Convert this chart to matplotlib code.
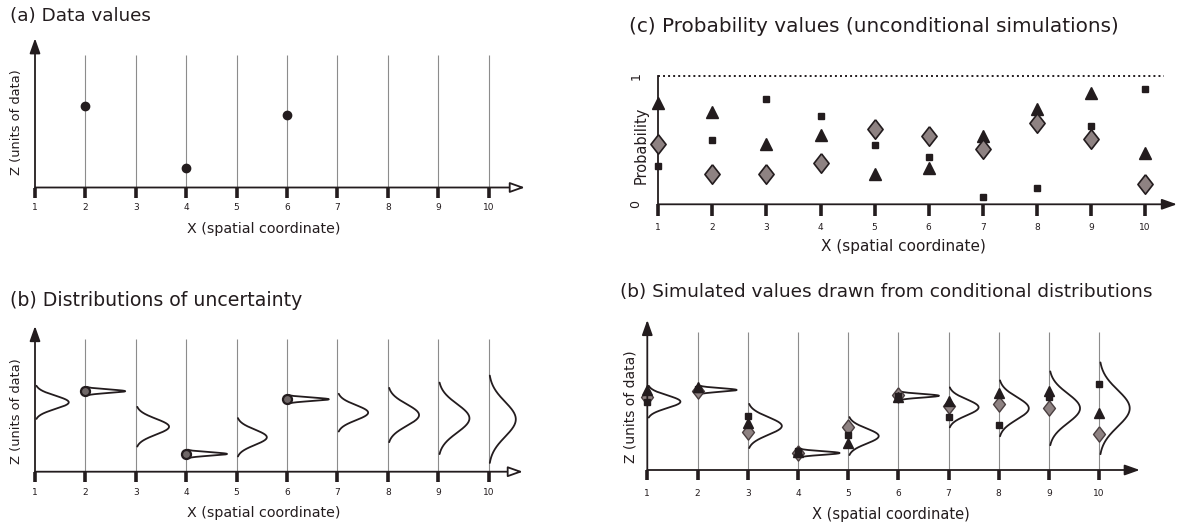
import numpy as np
import matplotlib.pyplot as plt

W, H = 1182, 526
INK = '#231c1e'
GREY_LINE = '#8c8c8c'
DIAMOND_FILL = '#8e8282'
RHOMBUS = [(0, 1), (0.78, 0), (0, -1), (-0.78, 0), (0, 1)]

# ---------------------------------------------------------------- data
xs = np.arange(1, 11)

# (a) observed data values
data_x = [2, 4, 6]
data_z = [6.15, 1.45, 5.47]

# (b) distributions of uncertainty at each location
dist_mean = [5.24, 6.08, 3.40, 1.34, 2.60, 5.47, 4.46, 4.28, 4.03, 3.96]
dist_sd = [0.50, 0.13, 0.60, 0.13, 0.58, 0.13, 0.57, 0.82, 1.08, 1.32]
dist_peak = [0.67, 0.79, 0.66, 0.81, 0.60, 0.83, 0.61, 0.62, 0.62, 0.54]

# (c) probability values of three unconditional simulations
p_triangle = [0.79, 0.72, 0.47, 0.54, 0.24, 0.28, 0.53, 0.74, 0.87, 0.40]
p_square = [0.30, 0.50, 0.82, 0.69, 0.46, 0.37, 0.06, 0.13, 0.61, 0.90]
p_diamond = [0.47, 0.24, 0.24, 0.32, 0.59, 0.53, 0.43, 0.63, 0.51, 0.16]

# (d) conditional distributions and the simulated values drawn from them
sim_mean = [4.95, 5.80, 3.19, 1.23, 2.46, 5.38, 4.54, 4.47, 4.47, 4.47]
sim_sd = [0.46, 0.13, 0.64, 0.13, 0.55, 0.13, 0.58, 0.81, 1.07, 1.33]
sim_peak = [0.66, 0.78, 0.68, 0.83, 0.61, 0.81, 0.60, 0.60, 0.62, 0.61]
z_triangle = [5.80, 6.00, 3.38, 1.30, 1.93, 5.28, 5.00, 5.60, 5.75, 4.11]
z_square = [4.90, 5.85, 3.91, 1.38, 2.54, 5.33, 3.86, 3.26, 5.27, 6.23]
z_diamond = [5.30, 5.70, 2.73, 1.20, 3.14, 5.40, 4.64, 4.78, 4.47, 2.61]

fig = plt.figure(figsize=(W / 100, H / 100), dpi=100)


def make_axes(x0, dx, y0, dy, xlim, ylim):
    # x0, y0: pixel position of data point (1, 0); dx, dy: pixels per data unit
    left = x0 + (xlim[0] - 1) * dx
    right = x0 + (xlim[1] - 1) * dx
    top = y0 - ylim[1] * dy
    bottom = y0 - ylim[0] * dy
    ax = fig.add_axes([left / W, 1 - bottom / H, (right - left) / W, (bottom - top) / H])
    ax.set_xlim(xlim)
    ax.set_ylim(ylim)
    ax.axis('off')
    return ax


def ftext(xp, yp, s, **kw):
    fig.text(xp / W, 1 - yp / H, s, color=INK, **kw)


def arrow(ax, start, end, fc):
    ax.annotate('', xy=end, xytext=start, annotation_clip=False,
                arrowprops=dict(arrowstyle='-|>,head_length=0.9,head_width=0.32',
                                mutation_scale=10, lw=1.3, ec=INK, fc=fc,
                                shrinkA=0, shrinkB=0))


def draw_frame(ax, x_end, z_end, tick_depth, label_z, line_top=None, head_fc='white'):
    arrow(ax, (1, 0), (x_end, 0), head_fc)
    if z_end is not None:
        arrow(ax, (1, 0), (1, z_end), INK)
    if line_top is not None:
        ax.vlines(xs[1:], 0, line_top, color=GREY_LINE, lw=0.8)
    ax.vlines(xs, -tick_depth, 0, color=INK, lw=2.6)
    for x in xs:
        ax.text(x, label_z, str(x), ha='center', va='center', fontsize=6.5, color=INK)


def draw_dist(ax, xi, mu, sd, peak):
    z = np.linspace(mu - 2.5 * sd, mu + 2.5 * sd, 200)
    ax.plot(xi + peak * np.exp(-0.5 * ((z - mu) / sd) ** 2), z, color=INK, lw=1.3,
            solid_capstyle='round')


# ---------------------------------------------------------------- (a) Data values
ax_a = make_axes(35, 50.4, 187.5, 13.25, (0.3, 11.2), (-4.0, 12.0))
draw_frame(ax_a, 10.72, 11.26, 0.8, -1.5, line_top=10)
ax_a.plot(data_x, data_z, 'o', ms=6, color=INK)
ftext(10, 16, '(a) Data values', fontsize=13.2, va='center')
ftext(264, 229, 'X (spatial coordinate)', fontsize=10.3, ha='center', va='center')
ftext(17, 122, 'Z (units of data)', fontsize=9.4, ha='center', va='center', rotation=90)

# ---------------------------------------------------------------- (b) Distributions
ax_b = make_axes(35, 50.4, 471.7, 13.24, (0.3, 11.2), (-4.0, 12.0))
draw_frame(ax_b, 10.68, 11.0, 0.8, -1.6, line_top=10)
for i, x in enumerate(xs):
    draw_dist(ax_b, x, dist_mean[i], dist_sd[i], dist_peak[i])
ax_b.plot(data_x, [dist_mean[x - 1] for x in data_x], 'o', ms=6.5, mfc='#6f6767', mec=INK, mew=1.6)
ftext(10, 300, '(b) Distributions of uncertainty', fontsize=13.6, va='center')
ftext(264, 513, 'X (spatial coordinate)', fontsize=10.3, ha='center', va='center')
ftext(17, 411, 'Z (units of data)', fontsize=9.4, ha='center', va='center', rotation=90)

# ---------------------------------------------------------------- (c) Probability values
ax_c = make_axes(658.3, 54.08, 204.3, 128.3, (0.4, 10.75), (-0.4, 1.1))
draw_frame(ax_c, 10.59, None, 0.094, -0.18, head_fc=INK)
ax_c.plot([1, 1], [0, 1], color=INK, lw=1.3)
ax_c.plot([1, 10.35], [1, 1], color=INK, lw=1.4, ls=(0, (1, 1.6)))
ax_c.plot(xs, p_triangle, '^', ms=8, color=INK, clip_on=False)
ax_c.plot(xs, p_square, 's', ms=4.5, color=INK, clip_on=False)
ax_c.plot(xs, p_diamond, marker=RHOMBUS, ls='none', ms=14, mfc=DIAMOND_FILL, mec=INK,
          mew=1.2, clip_on=False)
ftext(629, 26, '(c) Probability values (unconditional simulations)', fontsize=14.4,
      va='center')
ftext(903, 247, 'X (spatial coordinate)', fontsize=11, ha='center', va='center')
ftext(641, 145, 'Probability', fontsize=10.5, ha='center', va='center', rotation=90)
ftext(636, 76, '1', fontsize=9, ha='center', va='center', rotation=90)
ftext(636, 204, '0', fontsize=9, ha='center', va='center', rotation=90)

# ---------------------------------------------------------------- (d) Simulated values
ax_d = make_axes(647.3, 50.2, 470, 13.8, (0.3, 11.3), (-4.0, 12.0))
draw_frame(ax_d, 10.81, 10.87, 0.7, -1.67, line_top=10, head_fc=INK)
for i, x in enumerate(xs):
    draw_dist(ax_d, x, sim_mean[i], sim_sd[i], sim_peak[i])
ax_d.plot(xs, z_diamond, marker=RHOMBUS, ls='none', ms=11, mfc=DIAMOND_FILL, mec='#4a3f40',
          mew=1.0)
ax_d.plot(xs, z_square, 's', ms=4.5, color=INK)
ax_d.plot(xs, z_triangle, '^', ms=7, color=INK)
ftext(620, 292, '(b) Simulated values drawn from conditional distributions', fontsize=13.3,
      va='center')
ftext(891, 515, 'X (spatial coordinate)', fontsize=10.5, ha='center', va='center')
ftext(630, 407, 'Z (units of data)', fontsize=10, ha='center', va='center', rotation=90)

fig.savefig('out.png', dpi=100)
